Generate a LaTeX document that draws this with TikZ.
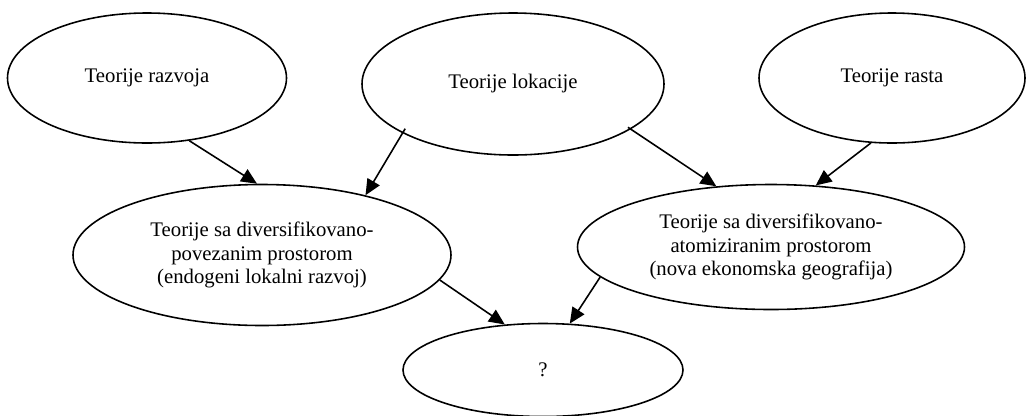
\documentclass[tikz,border=0pt]{standalone}
\usepackage{fontspec}
\setmainfont{Liberation Serif}
\usetikzlibrary{positioning,shapes.geometric,arrows.meta}
\tikzset{
    mytheory/.style={
    ellipse,
    draw,
    line width=0.9pt,
    inner sep=0pt,
    align=center,
    font=\fontsize{11.8}{13.2}\selectfont
  }
}

\begin{document}
\begin{tikzpicture}[on grid, >={Triangle[length=9pt,width=8pt]}]
  \useasboundingbox (0,0) rectangle (20.52,-8.30);
  \node[mytheory,minimum width=5.58cm,minimum height=2.60cm] (n_razvoj) at (2.94,-1.56) {Teorije razvoja};
  \node[mytheory,minimum width=6.04cm,minimum height=2.84cm] (n_lokacija) [below right=0.12cm and 7.32cm of n_razvoj] {Teorije lokacije};
  \node[mytheory,minimum width=5.32cm,minimum height=2.60cm] (n_rast) [above right=0.12cm and 7.58cm of n_lokacija] {Teorije rasta};
  \node[mytheory,minimum width=7.56cm,minimum height=2.82cm] (n_povezani) [below right=3.54cm and 2.30cm of n_razvoj] {Teorije sa diversifikovano-\\povezanim prostorom\\(endogeni lokalni razvoj)};
  \node[mytheory,minimum width=7.74cm,minimum height=2.50cm] (n_atomizirani) [below left=3.38cm and 2.42cm of n_rast] {Teorije sa diversifikovano-\\atomiziranim prostorom\\(nova ekonomska geografija)};
  \node[mytheory,minimum width=5.60cm,minimum height=1.86cm] (n_upitnik) [below right=5.72cm and 0.60cm of n_lokacija] {?};

  \draw[->,line width=0.9pt] (n_razvoj.-56.5) -- (n_povezani.94);
  \draw[->,line width=0.9pt,shorten <=-3pt] (n_lokacija.-156.6) -- (n_povezani.30.7);
  \draw[->,line width=0.9pt,shorten <=-2pt] (n_lokacija.-21) -- (n_atomizirani.132.1);
  \draw[->,line width=0.9pt] (n_rast.-108.2) -- (n_atomizirani.54.3);
  \draw[->,line width=0.9pt] (n_povezani.-8.1) -- (n_upitnik.130.1);
  \draw[->,line width=0.9pt] (n_atomizirani.190.9) -- (n_upitnik.60.9);
\end{tikzpicture}
\end{document}
